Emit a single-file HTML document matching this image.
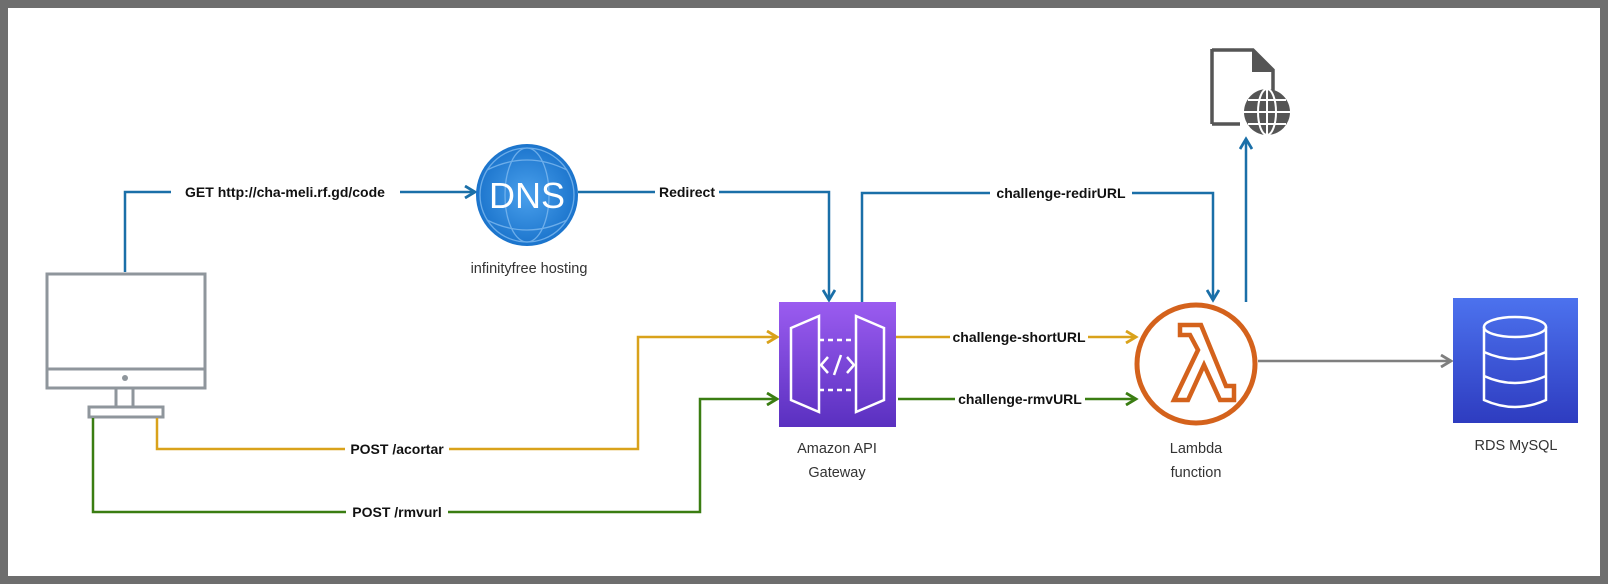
<!DOCTYPE html>
<html><head><meta charset="utf-8"><style>
html,body{margin:0;padding:0;background:#fff}
svg{display:block}
text{font-family:"Liberation Sans",sans-serif}
.lb{font-size:14px;font-weight:bold;fill:#111}
.nl{font-size:14.5px;fill:#333}
</style></head><body>
<svg width="1608" height="584" viewBox="0 0 1608 584" xmlns="http://www.w3.org/2000/svg">
<defs>
<marker id="ab" markerWidth="14" markerHeight="14" refX="11" refY="7" orient="auto" markerUnits="userSpaceOnUse"><path d="M1,1 L11,7 L1,13" fill="none" stroke="#1a6fa8" stroke-width="2.8"/></marker>
<marker id="ao" markerWidth="14" markerHeight="14" refX="11" refY="7" orient="auto" markerUnits="userSpaceOnUse"><path d="M1,1 L11,7 L1,13" fill="none" stroke="#d9a21b" stroke-width="2.8"/></marker>
<marker id="ag" markerWidth="14" markerHeight="14" refX="11" refY="7" orient="auto" markerUnits="userSpaceOnUse"><path d="M1,1 L11,7 L1,13" fill="none" stroke="#3a7d12" stroke-width="2.8"/></marker>
<marker id="ay" markerWidth="14" markerHeight="14" refX="11" refY="7" orient="auto" markerUnits="userSpaceOnUse"><path d="M1,1 L11,7 L1,13" fill="none" stroke="#7f7f7f" stroke-width="2.8"/></marker>
<linearGradient id="gp" x1="0" y1="0" x2="0" y2="1"><stop offset="0" stop-color="#9b5cf0"/><stop offset="1" stop-color="#5a30c0"/></linearGradient>
<linearGradient id="gb" x1="0" y1="0" x2="0" y2="1"><stop offset="0" stop-color="#4c72ee"/><stop offset="1" stop-color="#2e3cc0"/></linearGradient>
<radialGradient id="gd" cx="0.5" cy="0.5" r="0.5"><stop offset="0" stop-color="#4aa0ec"/><stop offset="1" stop-color="#1b74cc"/></radialGradient>
</defs>
<rect x="4" y="4" width="1600" height="576" fill="none" stroke="#6e6e6e" stroke-width="8"/>

<g fill="none" stroke="#8f969c" stroke-width="3">
<rect x="47" y="274" width="158" height="114"/>
<line x1="47" y1="369" x2="205" y2="369"/>
<path d="M116,388 V407 M133,388 V407"/>
<rect x="89" y="407" width="74" height="10"/>
</g>
<circle cx="125" cy="378" r="3" fill="#8f969c"/>

<g fill="none" stroke="#1a6fa8" stroke-width="2.5">
<path d="M125,272 V192 H475" marker-end="url(#ab)"/>
<path d="M578,192 H829 V300" marker-end="url(#ab)"/>
<path d="M862,302 V193 H1213 V300" marker-end="url(#ab)"/>
<path d="M1246,302 V139" marker-end="url(#ab)"/>
</g>
<g fill="none" stroke="#d9a21b" stroke-width="2.5">
<path d="M157,418 V449 H638 V337 H777" marker-end="url(#ao)"/>
<path d="M896,337 H1136" marker-end="url(#ao)"/>
</g>
<g fill="none" stroke="#3a7d12" stroke-width="2.5">
<path d="M93,418 V512 H700 V399 H777" marker-end="url(#ag)"/>
<path d="M898,399 H1136" marker-end="url(#ag)"/>
</g>
<path d="M1258,361 H1451" fill="none" stroke="#7f7f7f" stroke-width="2.5" marker-end="url(#ay)"/>

<g>
<rect x="171" y="182" width="229" height="20" fill="#fff"/>
<text class="lb" x="285" y="197" text-anchor="middle">GET http://cha-meli.rf.gd/code</text>
<rect x="655" y="182" width="64" height="20" fill="#fff"/>
<text class="lb" x="687" y="197" text-anchor="middle">Redirect</text>
<rect x="990" y="183" width="142" height="20" fill="#fff"/>
<text class="lb" x="1061" y="198" text-anchor="middle">challenge-redirURL</text>
<rect x="950" y="327" width="138" height="20" fill="#fff"/>
<text class="lb" x="1019" y="342" text-anchor="middle">challenge-shortURL</text>
<rect x="955" y="389" width="130" height="20" fill="#fff"/>
<text class="lb" x="1020" y="404" text-anchor="middle">challenge-rmvURL</text>
<rect x="345" y="439" width="104" height="20" fill="#fff"/>
<text class="lb" x="397" y="454" text-anchor="middle">POST /acortar</text>
<rect x="346" y="502" width="102" height="20" fill="#fff"/>
<text class="lb" x="397" y="517" text-anchor="middle">POST /rmvurl</text>
</g>

<circle cx="527" cy="195" r="51" fill="url(#gd)"/>
<g fill="none" stroke="#7fbaf0" stroke-width="1.3" opacity="0.8">
<circle cx="527" cy="195" r="47"/>
<ellipse cx="527" cy="195" rx="22" ry="47"/>
<path d="M487,170 Q527,150 567,170 M487,220 Q527,240 567,220"/>
</g>
<text x="527" y="208" text-anchor="middle" font-size="36" fill="#fff" style="font-family:'Liberation Sans',sans-serif">DNS</text>
<text class="nl" x="529" y="273" text-anchor="middle">infinityfree hosting</text>

<rect x="779" y="302" width="117" height="125" fill="url(#gp)"/>
<g fill="none" stroke="#fff" stroke-width="2.5">
<path d="M791,328 L819,316 V412 L791,400 Z"/>
<path d="M884,328 L856,316 V412 L884,400 Z"/>
<path d="M819,340 H856 M819,390 H856" stroke-dasharray="5,4"/>
<path d="M828,357 L821,365 L828,373 M847,357 L854,365 L847,373 M841,355 L834,375"/>
</g>
<text class="nl" x="837" y="453" text-anchor="middle">Amazon API</text>
<text class="nl" x="837" y="477" text-anchor="middle">Gateway</text>

<circle cx="1196" cy="364" r="59" fill="#fff" stroke="#d4621c" stroke-width="5"/>
<path d="M1201,325 H1180 V335 H1190 L1198,350 L1174,400 H1188 L1204,365 L1220,400 H1234 V386 L1226,386 Z" fill="none" stroke="#d4621c" stroke-width="4.5" stroke-linejoin="miter"/>
<text class="nl" x="1196" y="453" text-anchor="middle">Lambda</text>
<text class="nl" x="1196" y="477" text-anchor="middle">function</text>

<rect x="1453" y="298" width="125" height="125" fill="url(#gb)"/>
<g fill="none" stroke="#fff" stroke-width="2.5">
<ellipse cx="1515" cy="327" rx="31" ry="10"/>
<path d="M1484,327 V400 Q1515,414 1546,400 V327"/>
<path d="M1484,352 Q1515,366 1546,352 M1484,376 Q1515,390 1546,376"/>
</g>
<text class="nl" x="1516" y="450" text-anchor="middle">RDS MySQL</text>

<path d="M1212,50 H1253 L1273,70 V102 M1240,124 H1212 Z" fill="none" stroke="#555" stroke-width="3.5"/>
<path d="M1212,49 V124" stroke="#555" stroke-width="3.5"/>
<path d="M1252,50 L1274,72 H1252 Z" fill="#555"/>
<circle cx="1267" cy="112" r="23" fill="#555"/>
<g fill="none" stroke="#fff" stroke-width="2">
<ellipse cx="1267" cy="112" rx="9" ry="23"/>
<path d="M1267,89 V135 M1244,112 H1290 M1248,100 H1286 M1248,124 H1286"/>
</g>
</svg>
</body></html>
